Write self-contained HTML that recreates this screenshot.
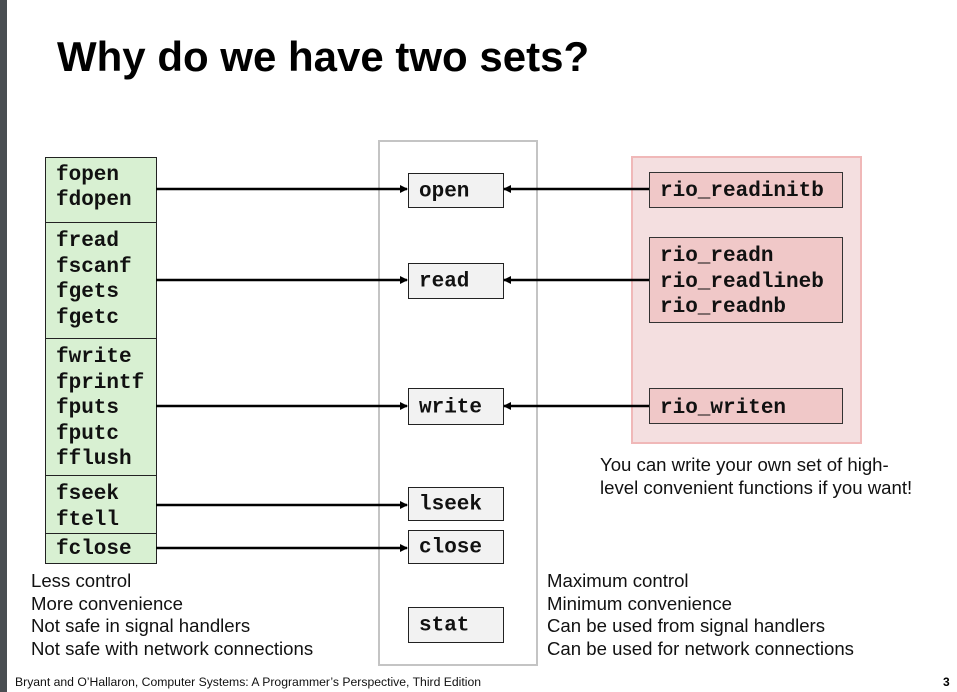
<!DOCTYPE html>
<html><head><style>
body{margin:0;width:957px;height:692px;background:#fff;position:relative;overflow:hidden;font-family:"Liberation Sans",sans-serif}
.a{position:absolute}
.m{font-family:"Liberation Mono",monospace;font-weight:bold;font-size:21px;color:#111}
.g{position:absolute;left:45px;width:112px;background:#d8f0d2;border:1px solid #222;box-sizing:border-box}
.g div{position:absolute;left:10px}
.c{position:absolute;left:408px;width:96px;background:#f2f2f2;border:1px solid #222;box-sizing:border-box}
.c span{position:absolute;left:10px;top:50%;transform:translateY(-45%)}
.r{position:absolute;left:649px;width:194px;background:#f0c8c8;border:1px solid #333;box-sizing:border-box}
.t{position:absolute;font-size:18.6px;color:#111;line-height:22.5px}
</style></head><body>
<div class="a" style="left:0;top:0;width:7px;height:692px;background:#4a4e52"></div>
<div class="a" style="left:57px;top:33px;font-size:42px;font-weight:bold;color:#000">Why do we have two sets?</div>

<div class="a" style="left:378px;top:140px;width:160px;height:526px;border:2px solid #c4c4c4;box-sizing:border-box"></div>
<div class="a" style="left:631px;top:156px;width:231px;height:288px;background:#f4dfe0;border:2px solid #f0b8b8;box-sizing:border-box"></div>

<div class="g m" style="top:157px;height:66px"><div style="top:6px">fopen</div><div style="top:31px">fdopen</div></div>
<div class="g m" style="top:222px;height:117px"><div style="top:7px">fread</div><div style="top:33px">fscanf</div><div style="top:58px">fgets</div><div style="top:84px">fgetc</div></div>
<div class="g m" style="top:338px;height:138px"><div style="top:7px">fwrite</div><div style="top:33px">fprintf</div><div style="top:58px">fputs</div><div style="top:84px">fputc</div><div style="top:109px">fflush</div></div>
<div class="g m" style="top:475px;height:59px"><div style="top:7px">fseek</div><div style="top:33px">ftell</div></div>
<div class="g m" style="top:533px;height:31px"><div style="top:4px">fclose</div></div>

<div class="c m" style="top:173px;height:35px"><span>open</span></div>
<div class="c m" style="top:263px;height:36px"><span>read</span></div>
<div class="c m" style="top:388px;height:37px"><span>write</span></div>
<div class="c m" style="top:487px;height:34px"><span>lseek</span></div>
<div class="c m" style="top:530px;height:34px"><span>close</span></div>
<div class="c m" style="top:607px;height:36px"><span>stat</span></div>

<div class="r m" style="top:172px;height:36px"><div class="a" style="left:10px;top:7px">rio_readinitb</div></div>
<div class="r m" style="top:237px;height:86px"><div class="a" style="left:10px;top:7px">rio_readn</div><div class="a" style="left:10px;top:33px">rio_readlineb</div><div class="a" style="left:10px;top:58px">rio_readnb</div></div>
<div class="r m" style="top:388px;height:36px"><div class="a" style="left:10px;top:8px">rio_writen</div></div>

<svg class="a" style="left:0;top:0" width="957" height="692">
<defs>
<marker id="ar" markerWidth="8" markerHeight="8" refX="7" refY="4" orient="auto" markerUnits="userSpaceOnUse"><path d="M0,0 L8,4 L0,8 z" fill="#000"/></marker>
</defs>
<g stroke="#000" stroke-width="2.5" marker-end="url(#ar)">
<line x1="156" y1="189" x2="407" y2="189"/>
<line x1="156" y1="280" x2="407" y2="280"/>
<line x1="156" y1="406" x2="407" y2="406"/>
<line x1="156" y1="505" x2="407" y2="505"/>
<line x1="156" y1="548" x2="407" y2="548"/>
<line x1="649" y1="189" x2="504" y2="189"/>
<line x1="649" y1="280" x2="504" y2="280"/>
<line x1="649" y1="406" x2="504" y2="406"/>
</g>
</svg>

<div class="t" style="left:600px;top:454px">You can write your own set of high-<br>level convenient functions if you want!</div>
<div class="t" style="left:31px;top:570px">Less control<br>More convenience<br>Not safe in signal handlers<br>Not safe with network connections</div>
<div class="t" style="left:547px;top:570px">Maximum control<br>Minimum convenience<br>Can be used from signal handlers<br>Can be used for network connections</div>
<div class="a" style="left:15px;top:675px;font-size:12.2px;color:#111">Bryant and O’Hallaron, Computer Systems: A Programmer’s Perspective, Third Edition</div>
<div class="a" style="left:943px;top:675px;font-size:12px;font-weight:bold">3</div>
</body></html>
